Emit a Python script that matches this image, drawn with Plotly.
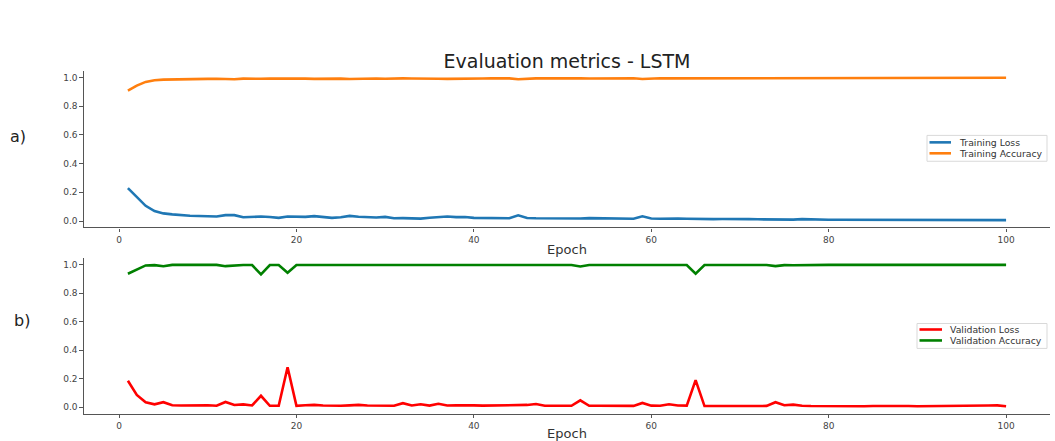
import plotly.graph_objects as go

epochs = list(range(1, 101))

train_loss = [
    0.229, 0.164, 0.106, 0.069, 0.053, 0.046, 0.040, 0.037, 0.035, 0.036,
    0.032, 0.041, 0.041, 0.026, 0.031, 0.031, 0.028, 0.022, 0.031, 0.029,
    0.029, 0.034, 0.028, 0.022, 0.026, 0.036, 0.030, 0.026, 0.024, 0.029,
    0.019, 0.020, 0.020, 0.017, 0.023, 0.029, 0.031, 0.027, 0.028, 0.022,
    0.022, 0.020, 0.020, 0.019, 0.040, 0.021, 0.019, 0.018, 0.017, 0.017,
    0.017, 0.018, 0.020, 0.019, 0.016, 0.015, 0.015, 0.016, 0.033, 0.018,
    0.016, 0.019, 0.018, 0.016, 0.014, 0.013, 0.013, 0.014, 0.012, 0.012,
    0.013, 0.012, 0.011, 0.013, 0.011, 0.010, 0.013, 0.010, 0.010, 0.009,
    0.009, 0.009, 0.008, 0.009, 0.008, 0.008, 0.008, 0.007, 0.008, 0.007,
    0.007, 0.008, 0.007, 0.006, 0.007, 0.006, 0.006, 0.006, 0.006, 0.006,
]

train_acc = [
    0.910, 0.944, 0.970, 0.982, 0.986, 0.988, 0.989, 0.990, 0.990, 0.991,
    0.992, 0.990, 0.989, 0.993, 0.991, 0.992, 0.993, 0.994, 0.992, 0.992,
    0.993, 0.991, 0.993, 0.994, 0.993, 0.990, 0.992, 0.993, 0.994, 0.992,
    0.995, 0.995, 0.994, 0.995, 0.994, 0.992, 0.991, 0.993, 0.992, 0.994,
    0.994, 0.995, 0.995, 0.995, 0.989, 0.994, 0.995, 0.995, 0.996, 0.996,
    0.996, 0.995, 0.994, 0.995, 0.996, 0.996, 0.996, 0.996, 0.990, 0.995,
    0.996, 0.995, 0.995, 0.996, 0.996, 0.997, 0.997, 0.996, 0.997, 0.997,
    0.997, 0.997, 0.997, 0.996, 0.997, 0.997, 0.996, 0.997, 0.997, 0.998,
    0.998, 0.998, 0.998, 0.998, 0.998, 0.998, 0.998, 0.998, 0.998, 0.998,
    0.998, 0.998, 0.998, 0.999, 0.998, 0.999, 0.999, 0.999, 0.999, 0.999,
]

val_loss = [
    0.186, 0.086, 0.035, 0.020, 0.035, 0.014, 0.012, 0.014, 0.016, 0.014,
    0.010, 0.037, 0.016, 0.020, 0.012, 0.080, 0.010, 0.010, 0.280, 0.010,
    0.014, 0.016, 0.012, 0.010, 0.010, 0.013, 0.016, 0.012, 0.010, 0.010,
    0.010, 0.028, 0.012, 0.021, 0.011, 0.024, 0.012, 0.014, 0.015, 0.013,
    0.011, 0.012, 0.010, 0.011, 0.014, 0.016, 0.022, 0.010, 0.010, 0.010,
    0.010, 0.048, 0.010, 0.010, 0.010, 0.010, 0.010, 0.009, 0.030, 0.011,
    0.010, 0.021, 0.012, 0.011, 0.190, 0.008, 0.008, 0.009, 0.008, 0.008,
    0.008, 0.008, 0.009, 0.035, 0.014, 0.018, 0.010, 0.008, 0.007, 0.007,
    0.007, 0.007, 0.008, 0.007, 0.008, 0.009, 0.008, 0.009, 0.008, 0.007,
    0.007, 0.007, 0.008, 0.007, 0.007, 0.007, 0.008, 0.012, 0.013, 0.007,
]

val_acc = [
    0.937, 0.967, 0.995, 0.997, 0.989, 0.999, 0.999, 0.998, 0.997, 0.998,
    0.999, 0.990, 0.996, 0.998, 0.998, 0.933, 0.998, 0.998, 0.944, 0.998,
    0.998, 0.998, 0.997, 0.998, 0.998, 0.999, 0.998, 0.997, 0.998, 0.998,
    0.998, 0.997, 0.998, 0.995, 0.998, 0.994, 0.998, 0.997, 0.996, 0.998,
    0.998, 0.999, 0.998, 0.998, 0.997, 0.998, 0.996, 0.998, 0.998, 0.998,
    0.998, 0.988, 0.998, 0.998, 0.998, 0.998, 0.997, 0.998, 0.994, 0.998,
    0.998, 0.996, 0.998, 0.998, 0.937, 0.998, 0.998, 0.998, 0.998, 0.998,
    0.998, 0.999, 0.998, 0.990, 0.997, 0.996, 0.998, 0.998, 0.999, 0.999,
    0.999, 0.999, 0.999, 0.999, 0.999, 0.998, 0.999, 0.999, 0.999, 0.999,
    0.999, 0.999, 0.999, 0.999, 0.999, 0.999, 0.999, 0.998, 0.999, 0.999,
]

x_ticks = [0, 20, 40, 60, 80, 100]
y_ticks = [0.0, 0.2, 0.4, 0.6, 0.8, 1.0]

W, H = 1055, 441
FONT = "DejaVu Sans"
TICK_COLOR = "#444444"
AXIS_COLOR = "#555555"
LW = 2.6

series = [
    ("Training Loss", train_loss, "#1f77b4", "x", "y"),
    ("Training Accuracy", train_acc, "#ff7f0e", "x", "y"),
    ("Validation Loss", val_loss, "#ff0000", "x2", "y2"),
    ("Validation Accuracy", val_acc, "#008000", "x2", "y2"),
]

fig = go.Figure()
for name, vals, color, xa, ya in series:
    fig.add_trace(go.Scatter(x=epochs, y=vals, mode="lines", name=name,
                             line=dict(color=color, width=LW), xaxis=xa, yaxis=ya,
                             showlegend=False))


def px_x(p):
    return p / W


def px_y(p):
    return 1 - p / H


x_dom = [px_x(84), px_x(1050)]
top_dom = [px_y(228.5), px_y(71.5)]
bot_dom = [px_y(415.5), px_y(259.5)]

xaxis_common = dict(
    range=[-3.95, 104.95], tickvals=x_ticks, ticks="outside", ticklen=3.5, tickwidth=1,
    tickcolor=AXIS_COLOR, showline=True, linecolor=AXIS_COLOR, linewidth=1.2,
    showgrid=False, zeroline=False, tickfont=dict(family=FONT, size=9, color=TICK_COLOR),
    title=dict(text="Epoch", font=dict(family=FONT, size=13, color="#333333"), standoff=1),
    domain=x_dom,
)
yaxis_common = dict(
    range=[-0.045, 1.045], tickvals=y_ticks, tickformat=".1f", ticks="outside", ticklen=3.5,
    tickwidth=1, tickcolor=AXIS_COLOR, showline=True, linecolor=AXIS_COLOR, linewidth=1.2,
    showgrid=False, zeroline=False, tickfont=dict(family=FONT, size=9, color=TICK_COLOR),
)

# Compact legend boxes (matplotlib-style): frame, short line sample, label
shapes = []
annotations = []


def add_legend(entries, box, line_x0, line_x1, text_x, rows_y):
    x0, y0, x1, y1 = box
    shapes.append(dict(type="rect", xref="paper", yref="paper",
                       x0=px_x(x0), x1=px_x(x1), y0=px_y(y1), y1=px_y(y0),
                       line=dict(color="#d9d9d9", width=1),
                       fillcolor="rgba(255,255,255,0.85)", layer="above"))
    for (name, color), ry in zip(entries, rows_y):
        shapes.append(dict(type="line", xref="paper", yref="paper",
                           x0=px_x(line_x0), x1=px_x(line_x1), y0=px_y(ry), y1=px_y(ry),
                           line=dict(color=color, width=LW), layer="above"))
        annotations.append(dict(text=name, x=px_x(text_x), y=px_y(ry), xref="paper",
                                yref="paper", xanchor="left", yanchor="middle",
                                showarrow=False,
                                font=dict(family=FONT, size=9.3, color="#333333")))


add_legend([(s[0], s[2]) for s in series[:2]], (927, 136, 1047, 162), 929.5, 951, 957,
           [143, 154])
add_legend([(s[0], s[2]) for s in series[2:]], (917, 325, 1047, 350), 919.5, 942, 947.5,
           [331, 342])

annotations += [
    dict(text="a)", x=px_x(18), y=px_y(137), xref="paper", yref="paper",
         xanchor="center", yanchor="middle", showarrow=False,
         font=dict(family=FONT, size=16, color="#222222")),
    dict(text="b)", x=px_x(22), y=px_y(322), xref="paper", yref="paper",
         xanchor="center", yanchor="middle", showarrow=False,
         font=dict(family=FONT, size=16, color="#222222")),
]

fig.update_layout(
    width=W, height=H,
    margin=dict(l=0, r=0, t=0, b=0),
    paper_bgcolor="white", plot_bgcolor="white",
    showlegend=False,
    xaxis=dict(**xaxis_common, anchor="y"),
    yaxis=dict(**yaxis_common, domain=top_dom, anchor="x"),
    xaxis2=dict(**xaxis_common, anchor="y2"),
    yaxis2=dict(**yaxis_common, domain=bot_dom, anchor="x2"),
    title=dict(text="Evaluation metrics - LSTM", x=px_x(567), xanchor="center",
               y=px_y(61), yanchor="middle",
               font=dict(family=FONT, size=19, color="#222222")),
    shapes=shapes,
    annotations=annotations,
)

fig.write_html("out.html")
